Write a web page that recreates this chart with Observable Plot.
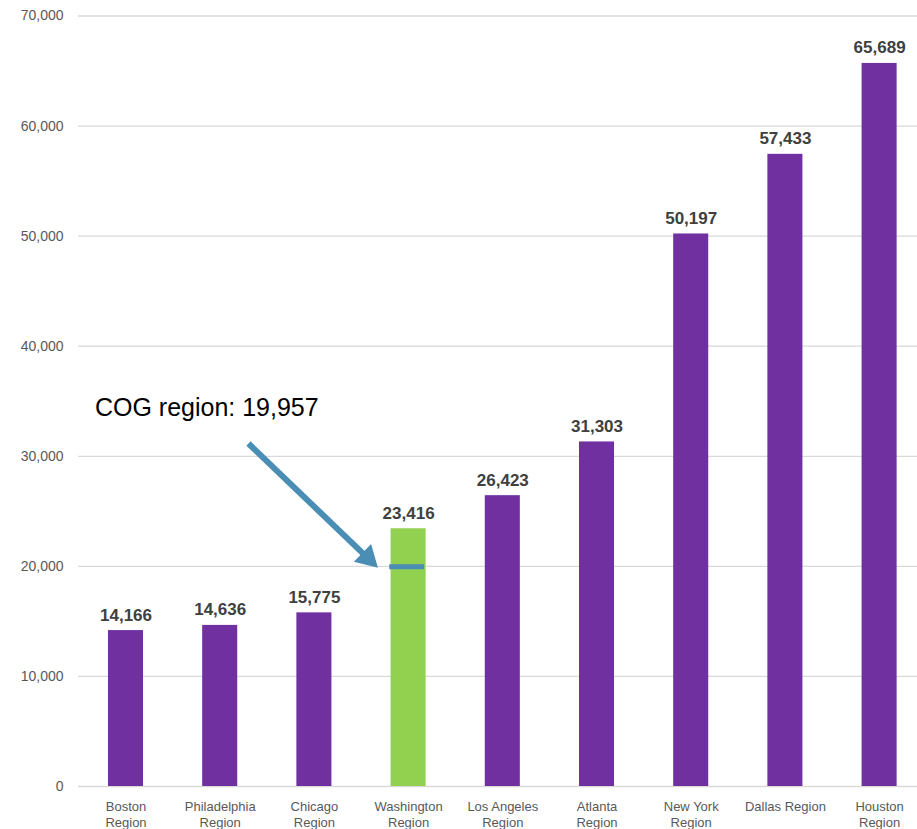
<!DOCTYPE html>
<html>
<head>
<meta charset="utf-8">
<script src="https://cdn.jsdelivr.net/npm/d3@7"></script>
<script src="https://cdn.jsdelivr.net/npm/@observablehq/plot@0.6"></script>
<style>
  html, body { margin: 0; padding: 0; background: #ffffff; }
  #chart { width: 917px; height: 829px; overflow: hidden; }
</style>
</head>
<body>
<div id="chart"></div>
<script>
// ---- data ----
const regions = ["Boston Region", "Philadelphia Region", "Chicago Region", "Washington Region",
  "Los Angeles Region", "Atlanta Region", "New York Region", "Dallas Region", "Houston Region"];
const tickLabels = ["Boston\nRegion", "Philadelphia\nRegion", "Chicago\nRegion", "Washington\nRegion",
  "Los Angeles\nRegion", "Atlanta\nRegion", "New York\nRegion", "Dallas Region", "Houston\nRegion"];
const values = [14166, 14636, 15775, 23416, 26423, 31303, 50197, 57433, 65689];
const highlightRegion = "Washington Region";
const cogLabel = "COG region: 19,957";
const cogValue = 19957;
const yTicks = [0, 10000, 20000, 30000, 40000, 50000, 60000, 70000];
// annotation arrow (x in category-index units, y in data units); end = arrowhead centre
const arrowStart = {x: 1.30, y: 31160};
const arrowEnd = {x: 2.565, y: 20770};
const labelPos = {x: -0.33, y: 34400};

const barHalf = 0.186;
const rows = regions.map((r, i) => ({
  i, region: r, value: values[i],
  x1: i - barHalf, x2: i + barHalf,
  hi: r === highlightRegion
}));
const hiIndex = regions.indexOf(highlightRegion);
const cogRow = [{x1: hiIndex - 0.2, x2: hiIndex + 0.17, y: cogValue}];
const arrowRow = [{x1: arrowStart.x, y1: arrowStart.y, x2: arrowEnd.x, y2: arrowEnd.y}];
const arrowShadow = "filter: drop-shadow(2px 3px 2px rgba(0,0,0,0.25))";

const plot = Plot.plot({
  width: 917,
  height: 829,
  marginLeft: 78,
  marginRight: 0,
  marginTop: 15,
  marginBottom: 43,
  style: {fontFamily: "'Liberation Sans', Arial, sans-serif", background: "#ffffff", color: "#595959", overflow: "hidden"},
  x: {type: "linear", domain: [-0.5, 8.5], range: [78.4, 926.2], axis: null},
  y: {domain: [0, 70000], range: [786, 15.5], axis: null},
  marks: [
    Plot.ruleY(yTicks, {stroke: "#d9d9d9", strokeWidth: 1.3}),
    Plot.axisY({ticks: yTicks, tickFormat: d3.format(","), tickSize: 0, tickPadding: 15,
      fontSize: 14, fill: "#595959", label: null, style: "letter-spacing:0.6px"}),
    Plot.axisX({ticks: d3.range(regions.length), tickFormat: i => tickLabels[i], tickSize: 0,
      tickPadding: 12, fontSize: 13, fill: "#595959", label: null, lineHeight: 1.3,
      style: "letter-spacing:0.5px"}),
    Plot.rectY(rows, {x1: "x1", x2: "x2", y1: 0, y2: "value",
      fill: d => d.hi ? "#92D050" : "#7030A0"}),
    Plot.text(rows, {x: "i", y: "value", text: d => d3.format(",")(d.value), dy: -10,
      lineAnchor: "bottom", fontSize: 17, fill: "#404040", fontWeight: 600,
      style: "letter-spacing:0.9px"}),
    Plot.ruleY(cogRow, {x1: "x1", x2: "x2", y: "y", stroke: "#4A8DB5", strokeWidth: 5, style: arrowShadow}),
    Plot.link(arrowRow, {x1: "x1", y1: "y1", x2: "x2", y2: "y2", stroke: "#4A8DB5",
      strokeWidth: 6, strokeLinecap: "butt", style: arrowShadow}),
    Plot.dot(arrowRow, {x: "x2", y: "y2", symbol: "triangle", r: 9.2, fill: "#4A8DB5",
      stroke: "none", rotate: 134, style: arrowShadow}),
    Plot.text([cogLabel], {x: labelPos.x, y: labelPos.y, text: d => d, textAnchor: "start",
      lineAnchor: "middle", fontSize: 25, fill: "#000000"})
  ]
});
document.getElementById("chart").appendChild(plot);
</script>
</body>
</html>
